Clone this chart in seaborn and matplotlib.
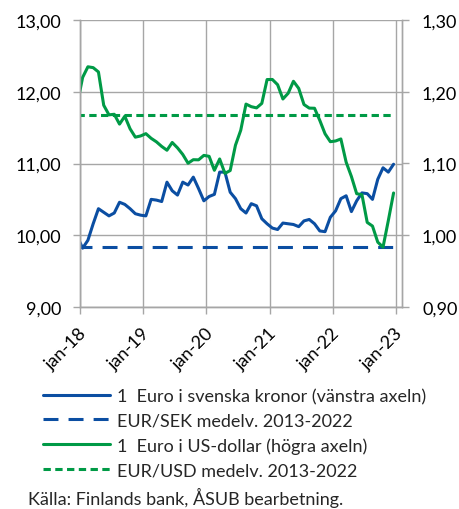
import numpy as np
import pandas as pd
import matplotlib
matplotlib.use("Agg")
import matplotlib.pyplot as plt
from matplotlib.ticker import FuncFormatter, FixedLocator
from matplotlib.transforms import ScaledTranslation
from matplotlib.lines import Line2D
import seaborn as sns

# ---- data (monthly, Dec 2017 .. Dec 2022) ----
sek = [9.98,
       9.82, 9.93, 10.16, 10.37, 10.32, 10.27, 10.31, 10.46, 10.43, 10.37, 10.30, 10.28,
       10.27, 10.50, 10.49, 10.47, 10.74, 10.62, 10.56, 10.74, 10.70, 10.81, 10.65, 10.48,
       10.54, 10.57, 10.88, 10.88, 10.60, 10.51, 10.37, 10.31, 10.44, 10.41, 10.23, 10.16,
       10.10, 10.08, 10.17, 10.16, 10.15, 10.12, 10.20, 10.22, 10.16, 10.06, 10.05, 10.25,
       10.34, 10.51, 10.55, 10.33, 10.48, 10.59, 10.58, 10.50, 10.78, 10.94, 10.88, 10.99]
usd = [1.1836,
       1.2200, 1.2348, 1.2336, 1.2276, 1.1812, 1.1678, 1.1686, 1.1549, 1.1659, 1.1484, 1.1367, 1.1384,
       1.1416, 1.1351, 1.1302, 1.1238, 1.1185, 1.1293, 1.1218, 1.1126, 1.1004, 1.1053, 1.1051, 1.1113,
       1.1100, 1.0905, 1.1063, 1.0862, 1.0902, 1.1255, 1.1463, 1.1828, 1.1792, 1.1775, 1.1838, 1.2170,
       1.2171, 1.2098, 1.1899, 1.1979, 1.2146, 1.2047, 1.1822, 1.1772, 1.1770, 1.1601, 1.1414, 1.1304,
       1.1314, 1.1342, 1.1019, 1.0819, 1.0579, 1.0566, 1.0179, 1.0128, 0.9904, 0.9834, 1.0203, 1.0589]
sek_avg = 9.83
usd_avg = 1.168
year_labels = ["jan-18", "jan-19", "jan-20", "jan-21", "jan-22", "jan-23"]
left_ticks = [9, 10, 11, 12, 13]
right_ticks = [0.90, 1.00, 1.10, 1.20, 1.30]
labels = ["1  Euro i svenska kronor (vänstra axeln)",
          "EUR/SEK medelv. 2013-2022",
          "1  Euro i US-dollar (högra axeln)",
          "EUR/USD medelv. 2013-2022"]
source = "Källa: Finlands bank, ÅSUB bearbetning."

BLUE = "#0b4ea2"
GREEN = "#009a46"
GRID = "#a6a6a6"

sns.set_style("white")
plt.rcParams["font.family"] = ["Lato", "DejaVu Sans"]
plt.rcParams["font.size"] = 13

# months centred in their month: Dec 2017 at -0.5, Jan 2018 at 0.5, ...
x = np.arange(len(sek)) - 0.5
df = pd.DataFrame({"x": x, "sek": sek, "usd": usd,
                   "sek_avg": sek_avg, "usd_avg": usd_avg})

fig = plt.figure(figsize=(4.6, 5.1), dpi=100)
W, H = 460, 510
ax = fig.add_axes([80 / W, 1 - 308 / H, (402 - 80) / W, (308 - 21) / H])
ax2 = ax.twinx()

lw = 2.2
sns.lineplot(data=df, x="x", y="sek", ax=ax, color=BLUE, lw=lw)
sns.lineplot(data=df, x="x", y="sek_avg", ax=ax, color=BLUE, lw=lw,
             linestyle=(0, (4.9, 3.3)))
sns.lineplot(data=df, x="x", y="usd", ax=ax2, color=GREEN, lw=lw)
sns.lineplot(data=df, x="x", y="usd_avg", ax=ax2, color=GREEN, lw=lw,
             linestyle=(0, (2.4, 1.45)))

ax.set_xlim(0, 61.1)
ax.set_ylim(9, 13)
ax2.set_ylim(0.9, 1.3)
ax.xaxis.set_major_locator(FixedLocator([0, 12, 24, 36, 48, 60]))
ax.set_xticklabels(year_labels)
ax.yaxis.set_major_locator(FixedLocator(left_ticks))
ax2.yaxis.set_major_locator(FixedLocator(right_ticks))
ax.yaxis.set_major_formatter(FuncFormatter(lambda v, p: f"{v:.2f}".replace(".", ",")))
ax2.yaxis.set_major_formatter(FuncFormatter(lambda v, p: f"{v:.2f}".replace(".", ",")))

for a in (ax, ax2):
    a.set_xlabel("")
    a.set_ylabel("")
    for s in a.spines.values():
        s.set_color(GRID)
        s.set_linewidth(1)
    a.spines["top"].set_visible(False)

ax.grid(True, color=GRID, lw=1)
ax.set_axisbelow(True)
ax.tick_params(axis="both", which="major", length=5, width=1, color=GRID,
               direction="out", labelsize=13, labelcolor="#000000")
ax.tick_params(axis="y", pad=8.6, left=True)
ax.tick_params(axis="x", pad=11.5, bottom=True)
ax2.tick_params(axis="y", length=5, width=1, color=GRID, direction="out",
                labelsize=13, pad=9.4, right=True, labelcolor="#000000")

for lab in ax.get_xticklabels():
    lab.set_rotation(45)
    lab.set_ha("right")
    lab.set_va("center")
    lab.set_rotation_mode("anchor")
    lab.set_transform(lab.get_transform() + ScaledTranslation(4 / 100, 0, fig.dpi_scale_trans))

handles = [Line2D([], [], color=BLUE, lw=lw),
           Line2D([], [], color=BLUE, lw=lw, linestyle=(0, (4.9, 3.3))),
           Line2D([], [], color=GREEN, lw=lw),
           Line2D([], [], color=GREEN, lw=lw, linestyle=(0, (2.4, 1.45)))]
fig.legend(handles, labels, loc="upper left", bbox_to_anchor=(43 / W, 1 - 389 / H),
           frameon=False, fontsize=13, borderpad=0, borderaxespad=0,
           handlelength=3.7, handletextpad=0.4, labelspacing=0.47)
fig.text(28 / W, 1 - 498 / H, source, fontsize=13, va="center", ha="left")

fig.savefig("out.png", dpi=100)
